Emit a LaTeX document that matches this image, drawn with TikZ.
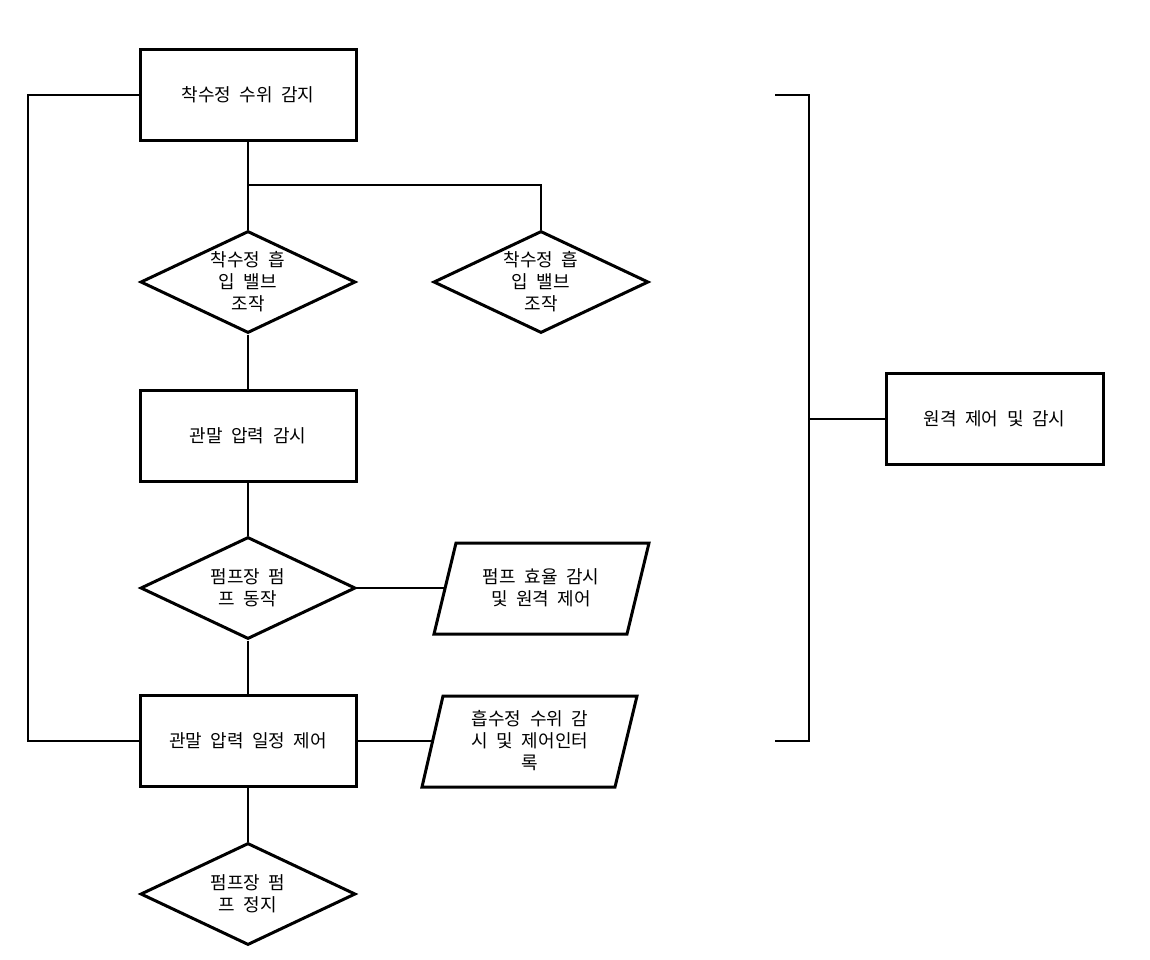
\documentclass[tikz,border=0pt]{standalone}
\usepackage{fontspec}
\setmainfont[WordSpace=2.1]{Noto Sans CJK KR}
\usetikzlibrary{shapes.geometric}
\begin{document}
\begin{tikzpicture}[x=1pt,y=-1pt,
  txt/.style={font=\fontsize{18}{22}\selectfont,align=center},
  box/.style={draw,line width=3pt,rectangle,minimum width=216pt,minimum height=91pt,inner sep=0pt,txt},
  dia/.style={draw,line width=3pt,diamond,minimum width=215pt,minimum height=102pt,inner sep=0pt},
  para/.style={line width=3pt,line join=miter},
  ptext/.style={inner sep=0pt,txt},
  conn/.style={line width=2pt}]
\useasboundingbox (0,0) rectangle (1150,959);
\node[box] (b1) at (248,94.5) {착수정 수위 감지};
\node[dia] (d1) at (248,282) {};
\node[ptext] (t1) at (d1.center) {착수정 흡\\입 밸브\\조작};
\node[dia] (d2) at (541,282) {};
\node[ptext] (t2) at (d2.center) {착수정 흡\\입 밸브\\조작};
\node[box] (b2) at (248,435.5) {관말 압력 감시};
\node[dia] (d3) at (248,588) {};
\node[ptext] (t3) at (d3.center) {펌프장 펌\\프 동작};
\node[box] (b3) at (248,741) {관말 압력 일정 제어};
\node[dia] (d4) at (248,894) {};
\node[ptext] (t4) at (d4.center) {펌프장 펌\\프 정지};
\node[box,minimum width=217pt] (b4) at (994.5,418.5) {원격 제어 및 감시};
% parallelograms
\draw[para] (456,543) -- (649,543) -- (627,634) -- (434,634) -- cycle;
\node[ptext] (p1) at (541,588) {펌프 효율 감시\\및 원격 제어};
\coordinate (p1w) at (445,588);
\draw[para] (443,696) -- (637,696) -- (615,787) -- (422,787) -- cycle;
\node[ptext] (p2) at (530,741) {흡수정 수위 감\\시 및 제어인터\\록};
\coordinate (p2w) at (432.5,741);
% connectors
\coordinate (j1) at (248,185);
\draw[conn] (b1.south) -- (d1.north);
\draw[conn] (j1) -| (d2.north);
\draw[conn] (d1.south) -- (b2.north);
\draw[conn] (b2.south) -- (d3.north);
\draw[conn] (d3.east) -- (p1w);
\draw[conn] (d3.south) -- (b3.north);
\draw[conn] (b3.east) -- (p2w);
\draw[conn] (b3.south) -- (d4.north);
\coordinate (lx) at (28,0);
\draw[conn] (b1.west) -| (lx |- b3.west) -- (b3.west);
% bracket
\coordinate (bt) at (775,95);
\coordinate (bb) at (775,741);
\coordinate (bm) at (809,418.5);
\draw[conn] (bt) -- (809,95) -- (809,741) -- (bb);
\draw[conn] (bm) -- (b4.west);
\end{tikzpicture}
\end{document}
